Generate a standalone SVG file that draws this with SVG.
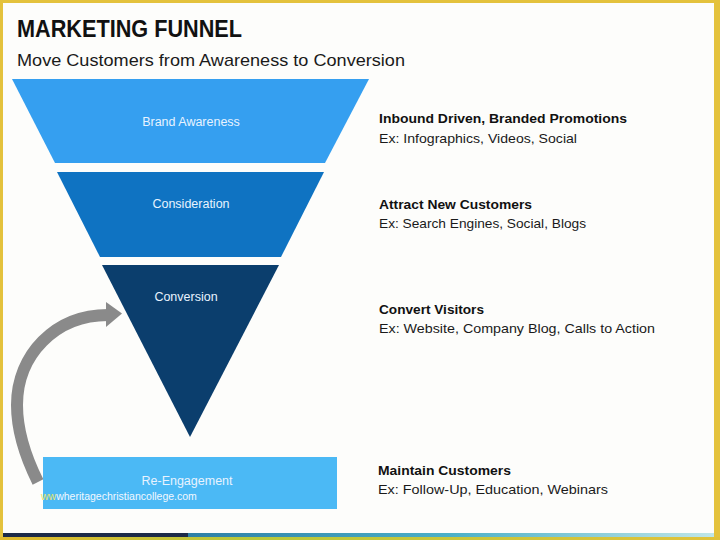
<svg xmlns="http://www.w3.org/2000/svg" width="720" height="540" viewBox="0 0 720 540">
  <defs>
    <linearGradient id="barGrad" x1="0" y1="0" x2="1" y2="0">
      <stop offset="0" stop-color="#2d7fa6"/>
      <stop offset="0.5" stop-color="#4bb0c8"/>
      <stop offset="1" stop-color="#bfe6e8"/>
    </linearGradient>
    <linearGradient id="frameBottom" x1="0" y1="0" x2="1" y2="0">
      <stop offset="0" stop-color="#e0b82c"/>
      <stop offset="0.35" stop-color="#b8c83a"/>
      <stop offset="1" stop-color="#e0c23a"/>
    </linearGradient>
  </defs>
  <style>
    .title { font-family: "Liberation Sans", Arial, sans-serif; font-weight: bold; font-size: 23px; fill: #111111; }
    .subtitle { font-family: "Liberation Sans", Arial, sans-serif; font-size: 17px; fill: #1a1a1a; }
    .stage { font-family: "Liberation Sans", Arial, sans-serif; font-size: 12.5px; fill: #e8f3ff; text-anchor: middle; }
    .head { font-family: "Liberation Sans", Arial, sans-serif; font-weight: bold; font-size: 13.5px; fill: #111111; }
    .desc { font-family: "Liberation Sans", Arial, sans-serif; font-size: 13.5px; fill: #1a1a1a; }
    .wm { font-family: "Liberation Sans", Arial, sans-serif; font-size: 10.5px; fill: #f2f8ff; }
  </style>

  <!-- background and frame -->
  <rect x="0" y="0" width="720" height="540" fill="#fdfdfb"/>
  <rect x="0" y="0" width="720" height="3" fill="#e4c23c"/>
  <rect x="0" y="0" width="3" height="540" fill="#e4c23c"/>
  <rect x="714" y="0" width="6" height="540" fill="#e4c23c"/>
  <rect x="0" y="537" width="720" height="3" fill="url(#frameBottom)"/>
  <rect x="3" y="533" width="185" height="4" fill="#1c2a48"/>
  <rect x="188" y="533" width="526" height="4" fill="url(#barGrad)"/>

  <!-- title -->
  <text class="title" x="17" y="37" textLength="225" lengthAdjust="spacingAndGlyphs">MARKETING FUNNEL</text>
  <text class="subtitle" x="17" y="66" textLength="388" lengthAdjust="spacingAndGlyphs">Move Customers from Awareness to Conversion</text>

  <!-- connectors -->
  <g id="connectors">
    <path d="M 38 482 C 26 458 17 430 17 405 C 17 355 55 315 108 315" fill="none" stroke="#8a8a8a" stroke-width="12"/>
    <polygon points="106,302 122,313.5 106,327" fill="#8a8a8a"/>
  </g>

  <!-- nodes -->
  <g id="brand-awareness">
    <polygon points="12,79 369,79 325,163 55,163" fill="#359ff0"/>
    <text class="stage" x="191" y="126">Brand Awareness</text>
  </g>
  <g id="consideration">
    <polygon points="57,172 324,172 281,257 100,257" fill="#0f73c2"/>
    <text class="stage" x="191" y="208">Consideration</text>
  </g>
  <g id="conversion">
    <polygon points="102,265 279,265 190,437" fill="#0b3e6d"/>
    <text class="stage" x="186" y="301">Conversion</text>
  </g>
  <g id="re-engagement">
    <rect x="43" y="457" width="294" height="52" fill="#4bb9f5"/>
    <text class="stage" x="187" y="485" font-size="13">Re-Engagement</text>
    <text class="wm" x="41" y="500"><tspan fill="#e6e36a">ww</tspan>wheritagechristiancollege.com</text>
  </g>

  <!-- descriptions -->
  <g id="desc-awareness">
    <text class="head" x="379" y="123" textLength="248" lengthAdjust="spacingAndGlyphs">Inbound Driven, Branded Promotions</text>
    <text class="desc" x="379" y="143" textLength="198" lengthAdjust="spacingAndGlyphs">Ex: Infographics, Videos, Social</text>
  </g>
  <g id="desc-consideration">
    <text class="head" x="379" y="209" textLength="153" lengthAdjust="spacingAndGlyphs">Attract New Customers</text>
    <text class="desc" x="379" y="228" textLength="207" lengthAdjust="spacingAndGlyphs">Ex: Search Engines, Social, Blogs</text>
  </g>
  <g id="desc-conversion">
    <text class="head" x="379" y="314" textLength="105" lengthAdjust="spacingAndGlyphs">Convert Visitors</text>
    <text class="desc" x="379" y="333" textLength="276" lengthAdjust="spacingAndGlyphs">Ex: Website, Company Blog, Calls to Action</text>
  </g>
  <g id="desc-reengagement">
    <text class="head" x="378" y="475" textLength="133" lengthAdjust="spacingAndGlyphs">Maintain Customers</text>
    <text class="desc" x="378" y="494" textLength="230" lengthAdjust="spacingAndGlyphs">Ex: Follow-Up, Education, Webinars</text>
  </g>
</svg>
